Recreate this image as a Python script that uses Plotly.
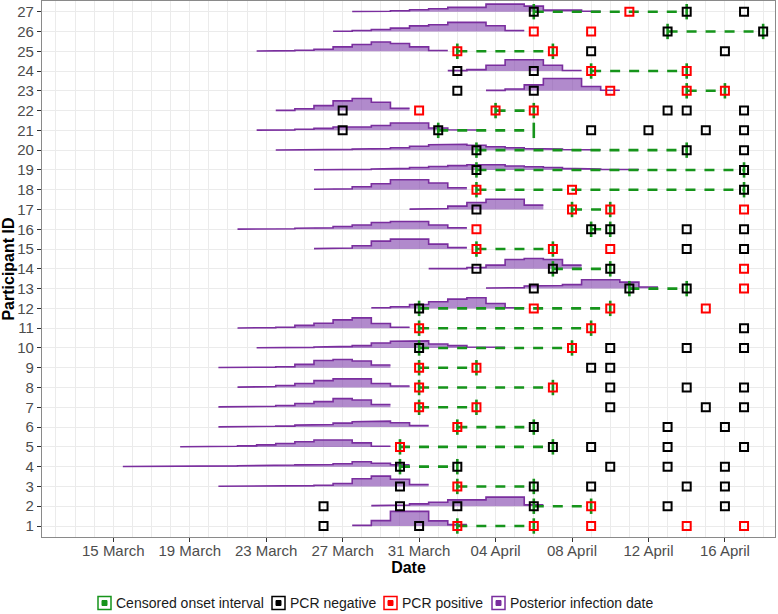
import plotly.graph_objects as go
import pandas as pd

YEAR = "2020"
participant_ids = list(range(1, 28))

# PCR negative test dates (MM-DD), one list per participant 1..27
pcr_negative = [
    ["03-26", "03-31"],
    ["03-26", "03-30", "04-02", "04-06", "04-13", "04-16"],
    ["03-30", "04-06", "04-09", "04-14", "04-16"],
    ["03-30", "04-02", "04-10", "04-13", "04-16"],
    ["04-07", "04-09", "04-13", "04-17"],
    ["04-06", "04-13", "04-16"],
    ["04-10", "04-15", "04-17"],
    ["04-10", "04-14", "04-17"],
    ["04-09", "04-10"],
    ["03-31", "04-10", "04-14", "04-17"],
    ["04-17"],
    ["03-31"],
    ["04-06", "04-11", "04-14"],
    ["04-03", "04-07", "04-10"],
    ["04-14", "04-17"],
    ["04-09", "04-10", "04-14", "04-17"],
    ["04-03"],
    ["04-17"],
    ["04-03", "04-17"],
    ["04-03", "04-14", "04-17"],
    ["03-27", "04-01", "04-09", "04-12", "04-15", "04-17"],
    ["03-27", "04-13", "04-14", "04-17"],
    ["04-02", "04-06"],
    ["04-02", "04-06"],
    ["04-09", "04-16"],
    ["04-13", "04-18"],
    ["04-06", "04-14", "04-17"],
]

# PCR positive test dates (MM-DD)
pcr_positive = [
    ["04-02", "04-06", "04-09", "04-14", "04-17"],
    ["04-09"],
    ["04-02"],
    [],
    ["03-30"],
    ["04-02"],
    ["03-31", "04-03"],
    ["03-31", "04-07"],
    ["03-31", "04-03"],
    ["04-08"],
    ["03-31", "04-09"],
    ["04-06", "04-10", "04-15"],
    ["04-17"],
    ["04-17"],
    ["04-03", "04-07", "04-10"],
    ["04-03"],
    ["04-08", "04-10", "04-17"],
    ["04-03", "04-08"],
    [],
    [],
    [],
    ["03-31", "04-04", "04-06"],
    ["04-10", "04-14", "04-16"],
    ["04-09", "04-14"],
    ["04-02", "04-07"],
    ["04-06", "04-09"],
    ["04-11"],
]

# Censored onset interval (start, end)
onset_start = ["04-02", "04-06", "04-02", "03-30", "03-30", "04-02", "03-31", "03-31", "03-31",
               "03-31", "03-31", "03-31", "04-11", "04-07", "04-03", "04-09", "04-08", "04-03",
               "04-03", "04-03", "04-01", "04-04", "04-14", "04-09", "04-02", "04-13", "04-06"]
onset_end = ["04-06", "04-09", "04-06", "04-02", "04-07", "04-06", "04-03", "04-07", "04-03",
             "04-08", "04-09", "04-10", "04-14", "04-10", "04-07", "04-10", "04-10", "04-17",
             "04-17", "04-14", "04-06", "04-06", "04-16", "04-14", "04-07", "04-18", "04-14"]

# Posterior infection date: first daily bin (MM-DD) and daily bin heights
posterior_first_day = ["03-28", "03-29", "03-21", "03-16", "03-19", "03-21", "03-21", "03-22", "03-21",
                       "03-23", "03-22", "03-29", "04-04", "04-01", "03-26", "03-22", "03-31", "03-26",
                       "03-26", "03-24", "03-23", "03-24", "04-04", "04-02", "03-23", "03-27", "03-28"]
posterior_heights = [
    [0.03, 0.27, 0.74, 0.74, 0.26, 0.07],
    [0.03, 0.06, 0.12, 0.20, 0.32, 0.32, 0.46, 0.46, 0.07],
    [0.01, 0.01, 0.02, 0.02, 0.04, 0.06, 0.15, 0.39, 0.52, 0.36, 0.10],
    [0.01, 0.01, 0.02, 0.02, 0.03, 0.04, 0.05, 0.06, 0.08, 0.09, 0.11, 0.15, 0.25, 0.17, 0.10],
    [0.01, 0.02, 0.03, 0.05, 0.10, 0.17, 0.26, 0.35, 0.35, 0.20, 0.03],
    [0.01, 0.02, 0.04, 0.05, 0.10, 0.13, 0.20, 0.27, 0.30, 0.22, 0.08],
    [0.02, 0.02, 0.05, 0.09, 0.19, 0.29, 0.44, 0.37, 0.14],
    [0.02, 0.05, 0.10, 0.20, 0.35, 0.44, 0.44, 0.20, 0.08],
    [0.01, 0.01, 0.03, 0.05, 0.17, 0.37, 0.42, 0.34, 0.14],
    [0.01, 0.02, 0.03, 0.05, 0.08, 0.12, 0.25, 0.34, 0.36, 0.20, 0.12, 0.05, 0.04],
    [0.01, 0.03, 0.05, 0.14, 0.25, 0.42, 0.52, 0.24, 0.05],
    [0.03, 0.08, 0.20, 0.34, 0.47, 0.54, 0.25, 0.03],
    [0.03, 0.05, 0.13, 0.16, 0.20, 0.45, 0.45, 0.33, 0.08],
    [0.01, 0.01, 0.07, 0.19, 0.47, 0.52, 0.47, 0.19],
    [0.02, 0.05, 0.17, 0.40, 0.50, 0.50, 0.25, 0.08],
    [0.01, 0.02, 0.03, 0.05, 0.08, 0.14, 0.22, 0.34, 0.39, 0.39, 0.22, 0.08],
    [0.02, 0.05, 0.17, 0.35, 0.52, 0.52, 0.22],
    [0.02, 0.05, 0.15, 0.30, 0.50, 0.50, 0.34, 0.10],
    [0.01, 0.02, 0.03, 0.05, 0.08, 0.12, 0.17, 0.22, 0.26, 0.26, 0.20, 0.16, 0.12, 0.08, 0.05, 0.03, 0.02],
    [0.01, 0.02, 0.03, 0.04, 0.05, 0.08, 0.12, 0.20, 0.27, 0.30, 0.25, 0.17, 0.12, 0.08, 0.05, 0.03, 0.02],
    [0.01, 0.02, 0.06, 0.10, 0.17, 0.17, 0.25, 0.37, 0.37, 0.12, 0.03, 0.02],
    [0.01, 0.09, 0.25, 0.49, 0.61, 0.42, 0.12],
    [0.02, 0.09, 0.30, 0.62, 0.62, 0.22, 0.03],
    [0.02, 0.07, 0.29, 0.57, 0.57, 0.29, 0.03],
    [0.01, 0.03, 0.05, 0.10, 0.22, 0.34, 0.47, 0.39, 0.22, 0.04],
    [0.01, 0.05, 0.10, 0.17, 0.28, 0.34, 0.46, 0.46, 0.29, 0.05],
    [0.01, 0.02, 0.05, 0.10, 0.15, 0.22, 0.22, 0.38, 0.38, 0.28, 0.08, 0.08, 0.02],
]

tick_dates = ["03-15", "03-19", "03-23", "03-27", "03-31", "04-04", "04-08", "04-12", "04-16"]
tick_labels = ["15 March", "19 March", "23 March", "27 March", "31 March",
               "04 April", "08 April", "12 April", "16 April"]

legend_names = ["Censored onset interval", "PCR negative", "PCR positive", "Posterior infection date"]

GREEN = "#16941B"
PURPLE_LINE = "#7A2E9E"
PURPLE_FILL = "rgba(125, 60, 170, 0.6)"
legend_colors = [GREEN, "black", "#FF0000", PURPLE_LINE]
FONT = "Liberation Sans, Arial, Helvetica, sans-serif"

W, H = 778, 614
ML, MR, MT, MB = 42, 3, 1, 77
PW, PH = W - ML - MR, H - MT - MB


def ts(md):
    return pd.Timestamp(f"{YEAR}-{md}")


def fmt(t):
    return t.strftime("%Y-%m-%d %H:%M:%S")


def px2paper_x(px):
    return (px - ML) / PW


def px2paper_y(py):
    return (H - MB - py) / PH


half = pd.Timedelta(hours=12)
day = pd.Timedelta(days=1)

fig = go.Figure()

# Posterior densities (filled step histograms)
fill_x, fill_y, line_x, line_y = [], [], [], []
for pid, first, hs in zip(participant_ids, posterior_first_day, posterior_heights):
    left0 = ts(first) - half
    fill_x.append(fmt(left0))
    fill_y.append(pid)
    for i, h in enumerate(hs):
        l = left0 + i * day
        r = l + day
        for xx in (l, r):
            fill_x.append(fmt(xx))
            fill_y.append(pid + h)
            line_x.append(fmt(xx))
            line_y.append(pid + h)
    fill_x.append(fmt(left0 + len(hs) * day))
    fill_y.append(pid)
    fill_x.append(None)
    fill_y.append(None)
    line_x.append(None)
    line_y.append(None)

fig.add_trace(go.Scatter(x=fill_x, y=fill_y, mode="lines", fill="toself",
                         fillcolor=PURPLE_FILL, line=dict(width=0), hoverinfo="skip",
                         showlegend=False))
fig.add_trace(go.Scatter(x=line_x, y=line_y, mode="lines",
                         line=dict(color=PURPLE_LINE, width=1.6), hoverinfo="skip",
                         showlegend=False))

# Censored onset intervals
ix, iy, cx, cy = [], [], [], []
for pid, s, e in zip(participant_ids, onset_start, onset_end):
    ix += [fmt(ts(s)), fmt(ts(e)), None]
    iy += [pid, pid, None]
    cx += [fmt(ts(s)), fmt(ts(e))]
    cy += [pid, pid]
fig.add_trace(go.Scatter(x=ix, y=iy, mode="lines",
                         line=dict(color=GREEN, width=2.6, dash="10px,9px"),
                         showlegend=False, hoverinfo="skip"))
fig.add_trace(go.Scatter(x=cx, y=cy, mode="markers",
                         marker=dict(symbol="line-ns", size=11, color=GREEN,
                                     line=dict(width=2.6, color=GREEN)),
                         showlegend=False, hoverinfo="skip"))

# PCR tests
for data, col in ((pcr_negative, "black"), (pcr_positive, "#FF0000")):
    px, py = [], []
    for pid, dates in zip(participant_ids, data):
        for d in dates:
            px.append(fmt(ts(d)))
            py.append(pid)
    fig.add_trace(go.Scatter(x=px, y=py, mode="markers",
                             marker=dict(symbol="square-open", size=8, color=col,
                                         line=dict(width=2, color=col)),
                             showlegend=False))

# Manual legend (keys + labels) below the plot
key_left = [98, 272, 384, 492]
key_size = 13
legend_cy = 603
shapes = []
annotations = []
for name, col, kx in zip(legend_names, legend_colors, key_left):
    shapes.append(dict(type="rect", xref="paper", yref="paper",
                       x0=px2paper_x(kx), x1=px2paper_x(kx + key_size),
                       y0=px2paper_y(legend_cy + key_size / 2), y1=px2paper_y(legend_cy - key_size / 2),
                       line=dict(color=col, width=1.5), fillcolor="white"))
    shapes.append(dict(type="rect", xref="paper", yref="paper",
                       x0=px2paper_x(kx + 4), x1=px2paper_x(kx + key_size - 4),
                       y0=px2paper_y(legend_cy + 2.5), y1=px2paper_y(legend_cy - 2.5),
                       line=dict(color=col, width=1), fillcolor=col))
    annotations.append(dict(text=name, xref="paper", yref="paper",
                            x=px2paper_x(kx + key_size + 3), y=px2paper_y(legend_cy),
                            xanchor="left", yanchor="middle", showarrow=False,
                            font=dict(size=14, color="#1A1A1A", family=FONT)))

ref = ts("03-31")
x_range = [fmt(ref - pd.Timedelta(days=19.73)), fmt(ref + pd.Timedelta(days=18.62))]
all_days = [fmt(ts("03-10") + i * day) for i in range(45)]

fig.update_layout(
    width=W, height=H,
    margin=dict(l=ML, r=MR, t=MT, b=MB),
    plot_bgcolor="white", paper_bgcolor="white",
    font=dict(family=FONT, size=15, color="#4D4D4D"),
    showlegend=False,
    shapes=shapes,
    annotations=annotations,
    xaxis=dict(
        type="date", range=x_range, automargin=False,
        tickmode="array", tickvals=[fmt(ts(d)) for d in tick_dates], ticktext=tick_labels,
        showgrid=True, gridcolor="#EBEBEB", gridwidth=1,
        minor=dict(tickmode="array", tickvals=all_days, showgrid=True,
                   gridcolor="#EBEBEB", gridwidth=1, ticks=""),
        showline=True, mirror=True, linecolor="#8A8A8A", linewidth=1.2,
        ticks="outside", ticklen=4, tickcolor="#333333", tickwidth=1,
        ticklabelstandoff=-4,
        zeroline=False,
        title=dict(text="<b>Date</b>", font=dict(size=16, color="black", family=FONT), standoff=0),
    ),
    yaxis=dict(
        range=[0.444, 27.54], automargin=False,
        tickmode="array", tickvals=participant_ids, ticktext=[str(i) for i in participant_ids],
        showgrid=True, gridcolor="#EBEBEB", gridwidth=1,
        showline=True, mirror=True, linecolor="#8A8A8A", linewidth=1.2,
        ticks="outside", ticklen=4, tickcolor="#333333", tickwidth=1,
        zeroline=False,
        title=dict(text="<b>Participant ID</b>", font=dict(size=16, color="black", family=FONT), standoff=2),
    ),
)

fig.write_html(
    "out.html",
    config={"displayModeBar": False},
    post_script="document.body.style.margin='0';document.body.style.padding='0';",
)
